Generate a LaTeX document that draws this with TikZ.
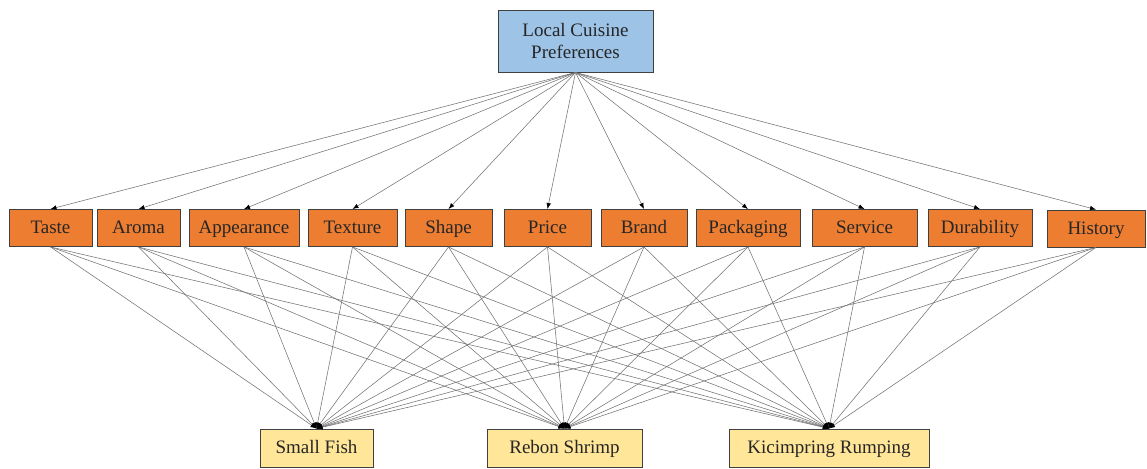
\documentclass[tikz,border=0pt]{standalone}
\usepackage{fontspec}
\setmainfont{Liberation Serif}
\usetikzlibrary{arrows.meta}
\definecolor{goalblue}{HTML}{9DC3E6}
\definecolor{critorange}{HTML}{ED7D31}
\definecolor{altyellow}{HTML}{FFE699}

\begin{document}
\begin{tikzpicture}
  [x=1pt,y=-1pt,
   every node/.style={draw=black!75,line width=0.9pt,text=black!85,inner sep=0pt,
     font=\fontsize{19}{22}\selectfont,minimum height=37pt,text height=14pt,text depth=2.5pt},
   goal/.style={fill=goalblue,align=center,minimum height=62pt,minimum width=155pt,
     text height=,text depth=},
   crit/.style={fill=critorange},
   alt/.style={fill=altyellow,minimum height=38pt},
   link/.style={draw=black!55,line width=0.55pt,-{Latex[length=6pt,width=4.5pt,color=black]}}]
  \useasboundingbox (0,0) rectangle (1147,468);

  \node[goal] (lcp) at (575.5,41) {Local Cuisine\\Preferences};

  \node[crit,minimum width=83pt]  (taste)  at (50.5,228)  {Taste};
  \node[crit,minimum width=83pt]  (aroma)  at (138.5,228) {Aroma};
  \node[crit,minimum width=110pt] (appear) at (244,228)   {Appearance};
  \node[crit,minimum width=89pt]  (textur) at (352.5,228) {Texture};
  \node[crit,minimum width=87pt]  (shape)  at (448.5,228) {Shape};
  \node[crit,minimum width=87pt]  (price)  at (547.5,228) {Price};
  \node[crit,minimum width=86pt]  (brand)  at (644,228)   {Brand};
  \node[crit,minimum width=104pt] (pack)   at (748,228)   {Packaging};
  \node[crit,minimum width=105pt] (serv)   at (864.5,228) {Service};
  \node[crit,minimum width=104pt] (dura)   at (980,228)   {Durability};
  \node[crit,minimum width=98pt]  (hist)   at (1096,228.5) {History};

  \node[alt,minimum width=113pt] (fish)   at (316.5,448) {Small Fish};
  \node[alt,minimum width=155pt] (shrimp) at (564.5,448) {Rebon Shrimp};
  \node[alt,minimum width=200pt] (rump)   at (829,448)   {Kicimpring Rumping};

  \foreach \c in {taste,aroma,appear,textur,shape,price,brand,pack,serv,dura,hist}
    \draw[link] (lcp.south) -- (\c.north);

  \foreach \c in {taste,aroma,appear,textur,shape,price,brand,pack,serv,dura,hist}
    \foreach \a in {fish,shrimp,rump}
      \draw[link] (\c.south) -- (\a.north);
\end{tikzpicture}
\end{document}
